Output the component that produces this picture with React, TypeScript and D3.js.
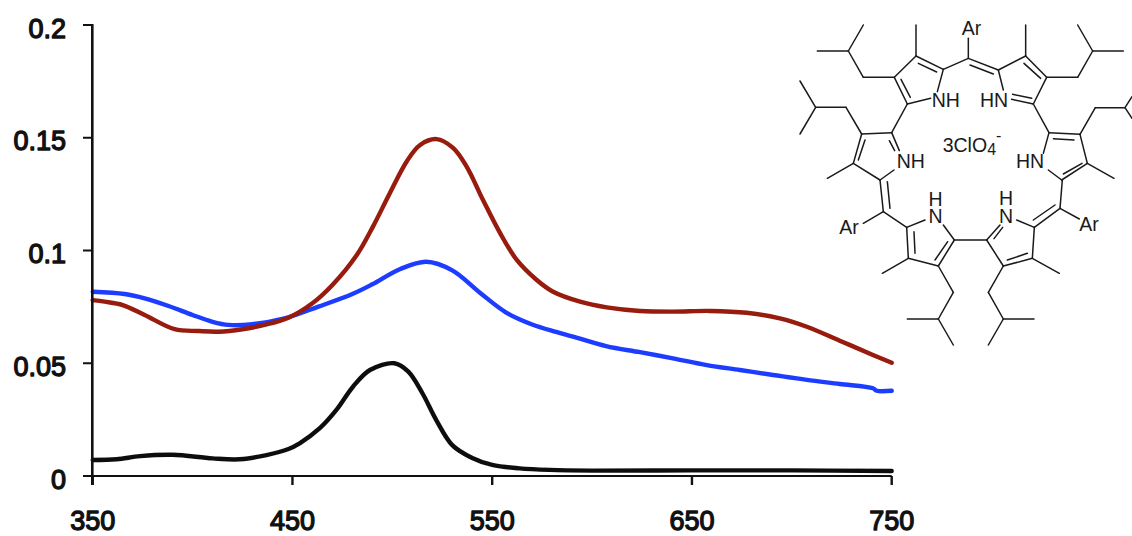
import React from "react";
import * as d3 from "d3";

const xTicks = [350, 450, 550, 650, 750];
const yTicks = [0, 0.05, 0.1, 0.15, 0.2];
const yTickLabels = ["0", "0.05", "0.1", "0.15", "0.2"];

const blueWl = [350, 366, 376, 388, 400, 410, 418, 430, 446, 463, 480, 490, 504, 517, 530, 544, 557, 570, 582, 590.5, 607, 624, 640.5, 657.4, 674, 690.6, 707.5, 724, 740.6, 742.5, 750];
const blueAbs = [0.0817, 0.0807, 0.0788, 0.0754, 0.0714, 0.0684, 0.067, 0.0673, 0.0699, 0.0751, 0.0807, 0.085, 0.0918, 0.095, 0.0912, 0.0812, 0.0725, 0.0672, 0.0639, 0.0618, 0.0576, 0.0549, 0.0522, 0.0492, 0.047, 0.0448, 0.0426, 0.0408, 0.0389, 0.0378, 0.0378];

const redWl = [350, 356, 365, 376, 391, 403, 413, 425, 436, 448, 460, 470, 482.2, 490.3, 498.8, 507.2, 513.9, 522.2, 530.4, 537.2, 545.4, 553.9, 562.3, 572.3, 580.5, 594, 607.3, 624, 640.5, 659, 677.4, 694, 707.5, 724, 740.6, 750];
const redAbs = [0.078, 0.0773, 0.0758, 0.0714, 0.0651, 0.0643, 0.064, 0.0651, 0.067, 0.0702, 0.0766, 0.0847, 0.098, 0.1106, 0.1255, 0.1395, 0.1468, 0.1494, 0.1455, 0.1372, 0.1224, 0.1078, 0.0958, 0.0869, 0.0817, 0.0773, 0.0748, 0.0732, 0.0729, 0.0732, 0.0724, 0.0699, 0.0662, 0.06, 0.0537, 0.0502];

const blackWl = [350, 362, 373.7, 390, 410, 423.6, 437, 448, 453.6, 463.7, 472, 480.3, 488.8, 501, 508, 515, 522, 530, 540, 550, 563.7, 578.7, 600, 650, 700, 750];
const blackAbs = [0.0071, 0.0074, 0.0088, 0.0094, 0.0078, 0.0074, 0.0093, 0.012, 0.0145, 0.0212, 0.0293, 0.0396, 0.047, 0.05, 0.0463, 0.0368, 0.0248, 0.0137, 0.008, 0.0049, 0.0034, 0.0027, 0.0024, 0.0025, 0.0025, 0.0022];

const seriesList = [
  { name: "black", wl: blackWl, abs: blackAbs, color: "#111111" },
  { name: "blue", wl: blueWl, abs: blueAbs, color: "#1c3cff" },
  { name: "red", wl: redWl, abs: redAbs, color: "#981a0c" },
];

const upperBonds = [
  [348, 168, 348, 75], [348, 168, 430, 208], [355, 190, 410, 216], [348, 168, 283, 232], [283, 232, 322, 312], [303, 238, 331, 292],
  [322, 312, 392, 295], [430, 208, 412, 275], [430, 208, 505, 175], [505, 175, 505, 115], [505, 175, 595, 210], [510, 195, 580, 222],
  [595, 210, 677, 168], [677, 168, 677, 75], [677, 168, 740, 232], [672, 190, 722, 235], [740, 232, 700, 312], [700, 312, 635, 298], [695, 295, 638, 283],
  [595, 210, 610, 270],
  [283, 232, 190, 232], [190, 232, 145, 153], [145, 153, 52, 153], [145, 153, 190, 75],
  [740, 232, 833, 232], [833, 232, 878, 153], [878, 153, 970, 153], [878, 153, 833, 75],
  [322, 312, 275, 398], [700, 312, 747, 398],
  [275, 398, 185, 402], [275, 398, 298, 452], [268, 422, 284, 452], [185, 402, 160, 490], [195, 420, 175, 480], [160, 490, 240, 540], [240, 540, 282, 510], [160, 490, 82, 535],
  [185, 402, 138, 322], [138, 322, 47, 322], [47, 322, 0, 243], [47, 322, 0, 402],
  [747, 398, 840, 403], [760, 416, 822, 420], [747, 398, 730, 460], [840, 403, 862, 490], [862, 490, 785, 540], [846, 490, 790, 522], [785, 540, 745, 510], [862, 490, 942, 535],
  [840, 403, 886, 323], [886, 323, 975, 323], [975, 323, 996, 290], [975, 323, 996, 355],
];
const lowerBonds = [
  [240, 30, 250, 125], [262, 35, 270, 115], [250, 125, 320, 172], [250, 125, 190, 160], [320, 172, 375, 150], [320, 172, 325, 265], [342, 185, 345, 250],
  [325, 265, 415, 288], [325, 265, 247, 310], [415, 288, 463, 210], [405, 270, 443, 215], [463, 210, 430, 165], [463, 210, 560, 210],
  [560, 210, 610, 288], [560, 210, 600, 165], [582, 206, 608, 172], [610, 288, 697, 265], [622, 270, 682, 250], [697, 265, 703, 172], [703, 172, 650, 150],
  [703, 172, 780, 115], [700, 150, 765, 105], [780, 115, 787, 30], [780, 115, 838, 147], [697, 265, 778, 310],
  [415, 288, 460, 367], [460, 367, 415, 447], [415, 447, 322, 447], [415, 447, 460, 525],
  [610, 288, 565, 367], [565, 367, 610, 447], [610, 447, 702, 447], [610, 447, 565, 525],
];
const atomLabels = [
  { t: "Ar", x: 961.7, y: 35 },
  { t: "NH", x: 931.7, y: 107.3 },
  { t: "HN", x: 980, y: 107.3 },
  { t: "NH", x: 896.7, y: 168.3 },
  { t: "HN", x: 1016, y: 168.3 },
  { t: "Ar", x: 839.3, y: 234.3 },
  { t: "Ar", x: 1079.3, y: 230.7 },
  { t: "H", x: 928.5, y: 206 },
  { t: "N", x: 928.5, y: 223.3 },
  { t: "H", x: 999, y: 205 },
  { t: "N", x: 999, y: 223.3 },
];

const FONT = "'Liberation Sans', Arial, sans-serif";

export default function App() {
  const x = d3.scaleLinear().domain([350, 750]).range([92.7, 891.7]);
  const y = d3.scaleLinear().domain([0, 0.2]).range([476, 25]);
  const line = d3
    .line<[number, number]>()
    .x((d) => x(d[0]))
    .y((d) => y(d[1]))
    .curve(d3.curveCatmullRom.alpha(0.5));

  const ux = d3.scaleLinear().domain([0, 3]).range([800, 801]);
  const uy = d3.scaleLinear().domain([0, 3]).range([0, 1]);
  const ly = d3.scaleLinear().domain([0, 3]).range([170, 171]);

  return (
    <svg
      width={1132}
      height={536}
      viewBox="0 0 1132 536"
      style={{ position: "absolute", left: 0, top: 0, display: "block", background: "#fff" }}
    >
      <defs>
        <filter id="soft" x="-5%" y="-5%" width="110%" height="110%">
          <feGaussianBlur stdDeviation="0.45" />
        </filter>
      </defs>
      <g fill="none" strokeLinejoin="round" strokeLinecap="round" strokeWidth={4.4} filter="url(#soft)">
        {seriesList.map((s) => (
          <path key={s.name} d={line(s.wl.map((w, i) => [w, s.abs[i]] as [number, number])) || ""} stroke={s.color} />
        ))}
      </g>

      <g stroke="#111" fill="none">
        <line x1={92.3} x2={92.3} y1={24} y2={485} strokeWidth={2.6} />
        <line x1={83} x2={891.7} y1={476} y2={476} strokeWidth={2.2} />
        {yTicks.map((t) => (
          <line key={t} x1={83} x2={92} y1={y(t)} y2={y(t)} strokeWidth={2} />
        ))}
        {xTicks.map((t) => (
          <line key={t} x1={x(t)} x2={x(t)} y1={476} y2={485} strokeWidth={2.4} />
        ))}
      </g>

      <g fontFamily={FONT} fontSize={27} fill="#111" stroke="#111" strokeWidth={1.3} strokeLinejoin="round">
        {yTicks.map((t, i) => (
          <text key={t} x={66} y={y(t) + 12.5} textAnchor="end">
            {yTickLabels[i]}
          </text>
        ))}
        {xTicks.map((t) => (
          <text key={t} x={x(t)} y={530.2} textAnchor="middle">
            {t}
          </text>
        ))}
      </g>

      <g stroke="#1a1a1a" strokeWidth={1.5} strokeLinecap="round" fill="none">
        {upperBonds.map((b, i) => (
          <line key={"u" + i} x1={ux(b[0])} y1={uy(b[1])} x2={ux(b[2])} y2={uy(b[3])} />
        ))}
        {lowerBonds.map((b, i) => (
          <line key={"l" + i} x1={ux(b[0])} y1={ly(b[1])} x2={ux(b[2])} y2={ly(b[3])} />
        ))}
      </g>
      <g fontFamily={FONT} fontSize={19.5} fill="#1a1a1a">
        {atomLabels.map((a, i) => (
          <text key={i} x={a.x} y={a.y}>
            {a.t}
          </text>
        ))}
        <text x={942.7} y={151.7}>
          3ClO
          <tspan fontSize={16} dy={3.5}>4</tspan>
          <tspan fontSize={16} dy={-14}>-</tspan>
        </text>
      </g>
    </svg>
  );
}
